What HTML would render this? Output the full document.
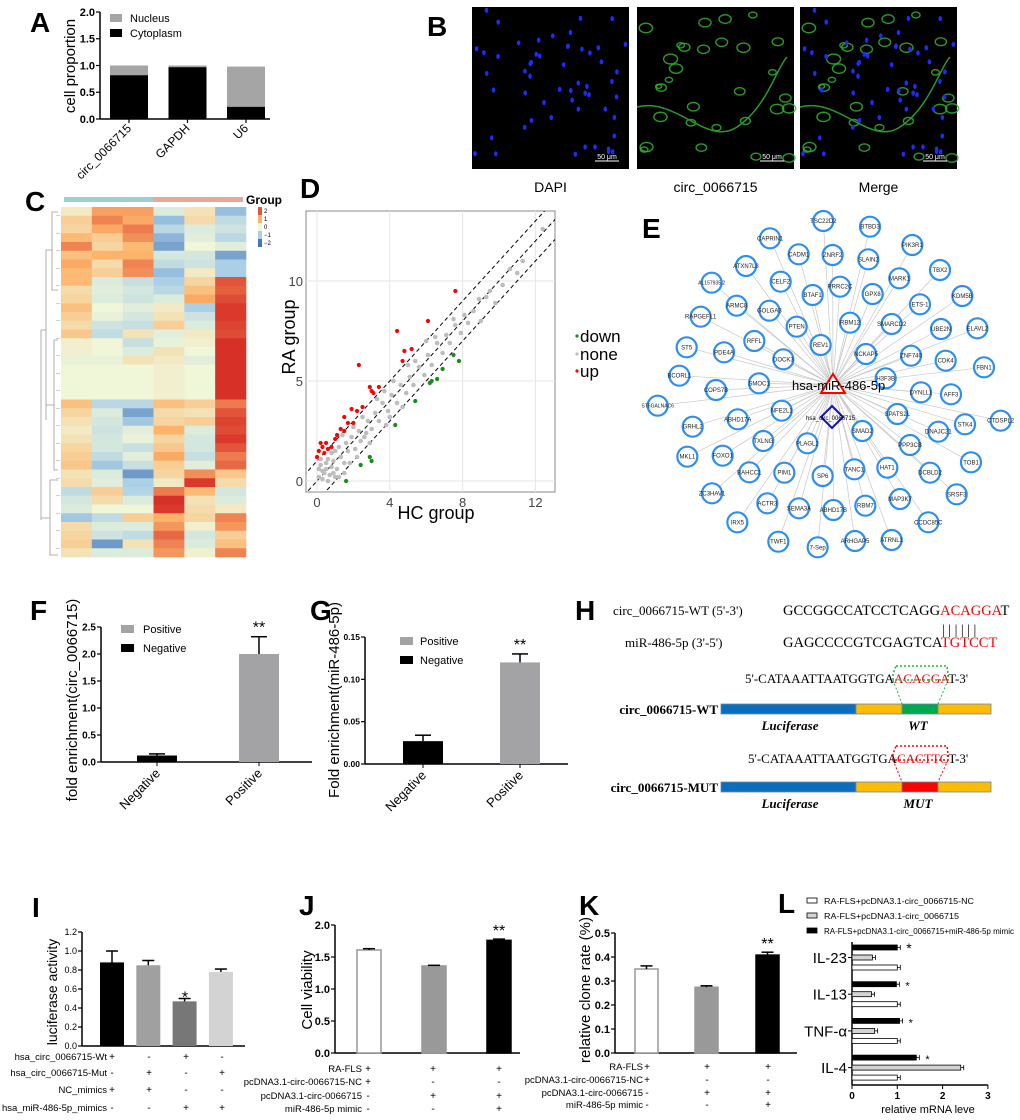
<!DOCTYPE html>
<html><head><meta charset="utf-8"><title>Figure</title>
<style>
html,body{margin:0;padding:0;background:#fff;}
svg{display:block;font-family:"Liberation Sans",Arial,sans-serif;}
</style></head>
<body>
<svg id="fig" width="1020" height="1120" viewBox="0 0 1020 1120" xmlns="http://www.w3.org/2000/svg">
<rect x="0" y="0" width="1020" height="1120" fill="#fff"/>
</svg>
<script>
// ---------- data ----------
const aCats=['circ_0066715','GAPDH','U6'];
const aCyto=[0.82,0.97,0.23];
const aNuc=[0.18,0.03,0.75];
const aTicks=[0,0.5,1,1.5,2];

const hmRows=[
[0.2,1.2,1.2,-0.3,0.3,-1.2],[0.6,1.5,1.1,-1.2,0.4,-0.7],[0.5,1.1,1.6,-0.8,-0.3,-0.5],[0.9,0.6,1.4,-1.3,-0.2,-0.8],
[1.5,0.5,0.9,-1.5,0,-0.2],[0.8,1.0,1.0,-0.4,-0.4,-1.5],[1.1,0.4,1.5,-0.7,-0.5,-1.0],[0.9,0.6,1.4,-1.2,0.2,-1.0],
[0.9,-0.3,-0.6,-1.0,0.5,2.0],[0.4,-0.2,-0.4,-0.8,0.8,1.9],[0.5,-0.3,-0.5,-0.3,1.1,2.1],[0.8,0,-0.2,0.2,-1.0,2.3],
[0.6,-0.1,-0.4,0.3,-0.5,2.3],[0.4,-0.5,-0.6,0.6,-0.3,2.2],[0.7,-0.7,0.3,-0.2,0.2,2.1],[0.1,0,-0.6,-0.1,0.1,2.4],
[0.1,0,-0.3,0.3,0,2.4],[-0.1,-0.1,0.3,0.2,-0.2,2.4],[0,0,0,0.1,0,2.4],[0,0,0,0.1,0,2.4],
[0,0,0,0.1,0,2.4],[0,0,0,0.1,0,2.4],[0.8,-0.8,-0.8,0.8,0.6,1.6],[0.5,-0.3,-1.5,0.4,0.3,2.0],
[0.3,-0.4,-1.1,0.5,0.6,2.2],[0.2,-0.5,-0.2,1.0,-0.3,2.1],[0.3,-0.4,-0.1,0.5,-0.4,2.3],[0.5,-0.4,-0.6,0.7,-0.4,2.0],
[0.6,-0.7,-0.2,1.1,-0.6,1.6],[0.7,-1.1,-0.6,0.6,-0.2,1.8],[0.3,-0.3,-1.6,0.5,1.4,0.7],[0.4,-0.2,-1.0,0.2,2.3,0.4],
[-0.7,0.6,-0.9,1.6,0.9,-0.4],[-0.4,0.4,-0.3,2.4,0.3,-0.3],[-0.3,0,0,2.3,0.4,0.2],[-1.1,-0.7,0.6,1.0,0.5,1.5],
[0.4,-0.3,-0.3,1.3,0.1,1.3],[0.5,-0.5,-0.7,1.8,-0.4,0.6],[0.6,-1.6,0.3,1.5,-0.3,0.8],[0.3,-0.3,-0.3,1.3,0.1,1.5]];

const dXTicks=[0,4,8,12];
const dYTicks=[0,5,10];
const upHC=[7.6,6.1,4.4,2.3,4.8,5.2,4.7,3.4,2.9,3.0,3.1,2.5,1.9,2.2,1.5,1.7,2.0,1.3,1.5,1.1,1.0,0.5,0.2,0.3,0.1,0.6,0.0,0.4,0.8];
const upRA=[9.5,8.0,7.5,5.8,6.5,6.6,6.0,4.7,4.7,4.5,4.4,3.7,3.6,3.5,3.2,2.9,2.9,2.6,2.5,2.3,2.1,1.9,1.9,1.7,1.5,1.6,1.2,1.4,1.7];
const downHC=[7.5,7.8,6.9,6.3,6.2,6.6,5.4,4.3,2.9,3.0,2.4,1.6];
const downRA=[6.3,6.0,5.6,5.0,4.9,5.1,4.0,2.8,1.2,1.0,0.8,0.0];
const noneHC=[0.1,0.3,0.5,0.2,0.7,0.9,1.1,0.4,0.6,1.3,1.5,1.2,1.7,1.9,2.1,2.3,2.0,2.6,2.8,2.5,3.0,3.2,3.4,3.6,3.3,3.9,4.1,4.4,4.6,4.2,4.9,5.1,5.3,5.6,5.4,5.9,6.1,6.3,6.6,6.5,6.9,7.1,7.3,7.6,7.5,7.9,8.1,8.3,8.6,9.0,9.3,9.5,9.8,10.2,10.6,11.0,11.3,12.4,2.9,1.4,3.8,4.0,3.7,0.8,1.8,0.2,6.0,5.0,4.7,8.9,1.0,2.2,0.3,0.6,0.9,1.2,1.5,0.1,0.8,1.6,2.4,2.7,0.5,1.0];
const noneRA=[0.2,0.1,0.6,0.8,0.3,1.0,0.6,0.4,1.1,1.2,0.9,1.7,1.5,2.2,1.6,2.5,2.7,2.2,3.0,3.2,2.6,3.4,3.0,3.9,4.1,3.5,4.3,3.9,4.8,5.0,4.4,5.2,4.8,5.7,6.0,5.3,6.3,5.8,6.9,7.2,6.4,7.3,6.9,7.8,8.1,7.4,8.3,7.9,8.5,8.0,9.2,9.5,8.9,9.8,10.6,10.4,11.0,12.6,1.9,2.3,2.8,3.2,4.5,1.4,0.9,1.1,7.0,5.8,3.7,9.1,0.2,1.2,0.5,0.0,0.4,0.2,0.4,0.6,0.7,1.9,2.0,2.4,0.9,1.5];

const fCats=['Negative','Positive'];
const fVals=[0.12,2.0];
const fErr=[0.15,2.32];
const fTicks=[0,0.5,1.0,1.5,2.0,2.5];
const gVals=[0.027,0.12];
const gErr=[0.034,0.13];
const gTicks=[0,0.05,0.10,0.15];

const iVals=[0.88,0.85,0.47,0.78];
const iErr=[1.0,0.9,0.5,0.81];
const iTicks=[0,0.2,0.4,0.6,0.8,1.0,1.2];
const iRowLabels=['hsa_circ_0066715-Wt','hsa_circ_0066715-Mut','NC_mimics','hsa_miR-486-5p_mimics'];
const iSigns=[['+','-','+','-'],['-','+','-','+'],['+','+','-','-'],['-','-','+','+']];

const jVals=[1.61,1.36,1.76];
const jErr=[1.63,1.37,1.78];
const jTicks=[0,0.5,1.0,1.5,2.0];
const kVals=[0.35,0.274,0.408];
const kErr=[0.363,0.28,0.42];
const kTicks=[0,0.1,0.2,0.3,0.4,0.5];
const jkRowLabels=['RA-FLS','pcDNA3.1-circ-0066715-NC','pcDNA3.1-circ-0066715','miR-486-5p mimic'];
const jkSigns=[['+','+','+'],['+','-','-'],['-','+','+'],['-','-','+']];

const lCats=['IL-23','IL-13','TNF-α','IL-4'];
const lMimic=[1.0,0.98,1.05,1.42];
const lCirc=[0.45,0.43,0.5,2.4];
const lNC=[1.0,1.0,1.0,1.0];
const lTicks=[0,1,2,3];

// ---------- helpers ----------
const NS='http://www.w3.org/2000/svg';
const svg=document.getElementById('fig');
function mk(tag,attrs,parent,text){const e=document.createElementNS(NS,tag);for(const k in attrs)e.setAttribute(k,attrs[k]);if(text!==undefined)e.textContent=text;(parent||svg).appendChild(e);return e;}
function nm(e,n,inter){
  
  
  return e;
}
function grp(n){const g=mk('g',{});nm(g,n);return g;}
function letter(g,t,x,y,n){const e=mk('text',{x:x,y:y,'font-size':28,'font-weight':'bold',fill:'#000'},g,t);nm(e,n);}
function vAxis(g,x,ys,ticks,fmt,fs,bold,n){
  const l=mk('line',{x1:x,x2:x,y1:ys(ticks[0]),y2:ys(ticks[ticks.length-1]),stroke:'#000','stroke-width':1.5},g);nm(l,n+'-y-axis');
  ticks.forEach(t=>{const tl=mk('line',{x1:x-4,x2:x,y1:ys(t),y2:ys(t),stroke:'#000','stroke-width':1.2},g);nm(tl,n+'-y-tick');
    const tx=mk('text',{x:x-5,y:ys(t)+fs*0.35,'text-anchor':'end','font-size':fs,'font-weight':bold?'bold':'normal'},g,fmt(t));nm(tx,n+'-y-tick-label');});
}
function hLine(g,x1,x2,y,n){const l=mk('line',{x1:x1,x2:x2,y1:y,y2:y,stroke:'#000','stroke-width':1.5},g);nm(l,n);}
function errBar(g,cx,yTop,yErr,w,n){const a=mk('line',{x1:cx,x2:cx,y1:yTop,y2:yErr,stroke:'#000','stroke-width':1.5},g);nm(a,n);
  const c=mk('line',{x1:cx-w,x2:cx+w,y1:yErr,y2:yErr,stroke:'#000','stroke-width':1.5},g);nm(c,n+'-cap');}
function txt(g,s,x,y,fs,n,extra){const a={x:x,y:y,'font-size':fs};for(const k in (extra||{}))a[k]=extra[k];const e=mk('text',a,g,s);nm(e,n);return e;}

// ---------- Panel A ----------
(function(){
  const g=grp('panel-a');
  letter(g,'A',30,32,'panel-a-label');
  const yA=v=>119-v*53.5;
  const xA=i=>110+i*58.5;
  vAxis(g,100,yA,aTicks,t=>t.toFixed(1),11,true,'panel-a');
  hLine(g,100,270,yA(0),'panel-a-x-axis');
  aCats.forEach((c,i)=>{
    const b1=mk('rect',{x:xA(i),y:yA(aCyto[i]),width:38,height:yA(0)-yA(aCyto[i]),fill:'#000'},g);nm(b1,'bar-cytoplasm-'+c);
    const b2=mk('rect',{x:xA(i),y:yA(aCyto[i]+aNuc[i]),width:38,height:yA(aCyto[i])-yA(aCyto[i]+aNuc[i]),fill:'#a5a5a5'},g);nm(b2,'bar-nucleus-'+c);
    const tk=mk('line',{x1:xA(i)+19,x2:xA(i)+19,y1:yA(0),y2:yA(0)+4,stroke:'#000','stroke-width':1.2},g);nm(tk,'panel-a-x-tick');
    txt(g,c,xA(i)+22,yA(0)+10,12,'panel-a-x-label',{'text-anchor':'end',transform:'rotate(-45 '+(xA(i)+22)+' '+(yA(0)+10)+')'});
  });
  txt(g,'cell proportion',75,66,15,'panel-a-y-title',{'text-anchor':'middle',transform:'rotate(-90 75 66)'});
  const l1=mk('rect',{x:110,y:14,width:12,height:8,fill:'#a5a5a5'},g);nm(l1,'legend-nucleus-swatch');
  txt(g,'Nucleus',130,22,11,'legend-nucleus');
  const l2=mk('rect',{x:110,y:29,width:12,height:8,fill:'#000'},g);nm(l2,'legend-cytoplasm-swatch');
  txt(g,'Cytoplasm',130,37,11,'legend-cytoplasm');
})();

// ---------- Panel B ----------
(function(){
  const g=grp('panel-b');
  letter(g,'B',427,36,'panel-b-label');
  const xs=[472,637,800], W=157, H=162, Y=7;
  const labels=['DAPI','circ_0066715','Merge'];
  let seed=7; const rnd=()=>{seed=(seed*16807)%2147483647;return seed/2147483647;};
  const blue=[],green=[];
  for(let i=0;i<55;i++)blue.push([rnd(),rnd()]);
  for(let i=0;i<30;i++)green.push([rnd(),rnd(),rnd()]);
  xs.forEach((x0,k)=>{
    const im=mk('rect',{x:x0,y:Y,width:W,height:H,fill:'#000'},g);nm(im,'micrograph-'+labels[k]);
    if(k>0){green.forEach(p=>{const e=mk('ellipse',{cx:x0+4+p[0]*(W-8),cy:Y+4+p[1]*(H-8),rx:3+p[2]*4,ry:2+p[2]*3,fill:'none',stroke:'#2fb52f','stroke-width':1.4,opacity:0.85},g);nm(e,'green-signal');});
      const c=mk('path',{d:`M${x0} ${Y+100} C${x0+40} ${Y+90},${x0+70} ${Y+140},${x0+100} ${Y+120} S${x0+140} ${Y+60},${x0+150} ${Y+50}`,fill:'none',stroke:'#2a9a2a','stroke-width':1.5},g);nm(c,'green-fiber');}
    if(k!==1){blue.forEach(p=>{const e=mk('ellipse',{cx:x0+3+p[0]*(W-6),cy:Y+3+p[1]*(H-6),rx:1.8,ry:2.6,fill:'#1e2bff'},g);nm(e,'nucleus-dot');});}
    const sb=mk('line',{x1:x0+W-34,x2:x0+W-10,y1:Y+H-8,y2:Y+H-8,stroke:'#fff','stroke-width':1},g);nm(sb,'scale-bar');
    txt(g,'50 μm',x0+W-22,Y+H-10,7,'scale-bar-label',{'text-anchor':'middle',fill:'#fff'});
    txt(g,labels[k],x0+W/2,192,14,'caption-'+labels[k],{'text-anchor':'middle'});
  });
})();

// ---------- Panel C ----------
(function(){
  const g=grp('panel-c');
  letter(g,'C',25,211,'panel-c-label');
  const x0=61,x1=246,y0=207,y1=557;
  const cw=(x1-x0)/6, rh=(y1-y0)/hmRows.length;
  const stops=[[-2,[69,117,180]],[-1,[171,208,230]],[0,[240,246,216]],[1,[253,179,106]],[2.4,[215,48,39]]];
  function col(v){v=Math.max(-2,Math.min(2.4,v));for(let i=0;i<stops.length-1;i++){const a=stops[i],b=stops[i+1];if(v<=b[0]){const t=(v-a[0])/(b[0]-a[0]);return 'rgb('+a[1].map((c,j)=>Math.round(c+(b[1][j]-c)*t)).join(',')+')';}}return 'rgb(215,48,39)';}
  hmRows.forEach((r,ri)=>r.forEach((v,ci)=>{const c=mk('rect',{x:x0+ci*cw,y:y0+ri*rh,width:cw+0.3,height:rh+0.3,fill:col(v)},g);nm(c,'heatmap-cell');}));
  const gb1=mk('rect',{x:64,y:197,width:89,height:5,fill:'#9ad0d0'},g);nm(gb1,'group-bar-hc');
  const gb2=mk('rect',{x:153,y:197,width:90,height:5,fill:'#e8a898'},g);nm(gb2,'group-bar-ra');
  txt(g,'Group',246,204,12,'group-label',{'font-weight':'bold'});
  const keyVals=[2,1,0,-1,-2];
  keyVals.forEach((v,i)=>{const r=mk('rect',{x:258,y:207+i*8,width:4,height:8,fill:col(v)},g);nm(r,'color-key-cell');
    txt(g,String(v).replace('-','−'),264,213+i*8,6,'color-key-label');});
  const d=mk('path',{d:'M58 212 H52 V290 H58 M52 250 H46 V420 M58 340 H54 V470 H58 M54 405 H46 M46 330 H41 V520 M58 480 H50 V555 H58 M50 518 H41',fill:'none',stroke:'#999','stroke-width':0.8},g);nm(d,'row-dendrogram');
  for(let i=0;i<hmRows.length;i+=2){const l=mk('line',{x1:56,x2:60,y1:y0+i*rh+rh,y2:y0+i*rh+rh,stroke:'#aaa','stroke-width':0.6},g);nm(l,'dendrogram-leaf');}
})();

// ---------- Panel D ----------
(function(){
  const g=grp('panel-d');
  letter(g,'D',300,198,'panel-d-label');
  const X=v=>317+v*18.2, Y=v=>481-v*20;
  const px0=306,px1=555,py0=211,py1=492;
  const fr=mk('rect',{x:px0,y:py0,width:px1-px0,height:py1-py0,fill:'#fff',stroke:'#888','stroke-width':1},g);nm(fr,'plot-frame');
  dXTicks.forEach(t=>{const l=mk('line',{x1:X(t),x2:X(t),y1:py0,y2:py1,stroke:'#e6e6e6','stroke-width':1},g);nm(l,'grid-x');
    txt(g,String(t),X(t),py1+15,13,'x-tick-label',{'text-anchor':'middle',fill:'#444'});});
  dYTicks.forEach(t=>{const l=mk('line',{x1:px0,x2:px1,y1:Y(t),y2:Y(t),stroke:'#e6e6e6','stroke-width':1},g);nm(l,'grid-y');
    txt(g,String(t),px0-3,Y(t)+5,13,'y-tick-label',{'text-anchor':'end',fill:'#444'});});
  const cp=mk('clipPath',{id:'dclip'},g);mk('rect',{x:px0,y:py0,width:px1-px0,height:py1-py0},cp);
  const lg=mk('g',{'clip-path':'url(#dclip)'},g);nm(lg,'scatter-area');
  [-1,0,1].forEach(o=>{const l=mk('line',{x1:X(-1),y1:Y(-1+o),x2:X(14),y2:Y(14+o),stroke:'#000','stroke-width':1,'stroke-dasharray':'4,3'},lg);nm(l,'threshold-line');});
  noneHC.forEach((v,i)=>{const c=mk('circle',{cx:X(v),cy:Y(noneRA[i]),r:2.3,fill:'#bdbdbd'},lg);nm(c,'point-none');});
  upHC.forEach((v,i)=>{const c=mk('circle',{cx:X(v),cy:Y(upRA[i]),r:2.1,fill:'#f00'},lg);nm(c,'point-up');});
  downHC.forEach((v,i)=>{const c=mk('circle',{cx:X(v),cy:Y(downRA[i]),r:2.1,fill:'#1a8a1a'},lg);nm(c,'point-down');});
  txt(g,'HC group',436,519,18,'x-axis-title',{'text-anchor':'middle'});
  txt(g,'RA group',295,337,18,'y-axis-title',{'text-anchor':'middle',transform:'rotate(-90 295 337)'});
  const lgd=[['down','#1a8a1a',342],['none','#bdbdbd',360],['up','#f00',377]];
  lgd.forEach(e=>{const c=mk('circle',{cx:577,cy:e[2]-6,r:1.6,fill:e[1]},g);nm(c,'legend-dot-'+e[0]);txt(g,e[0],580,e[2],17,'legend-'+e[0]);});
})();

// ---------- Panel E ----------
(function(){
  const g=grp('panel-e');
  letter(g,'E',642,238,'panel-e-label');
  const nodes=[['TSC22D2',790,78],['BTBD3',930,95],['CAPRIN1',630,130],['CADM1',716,178],['ZNRF2',818,180],['SLAIN2',925,193],['PIK3R1',1057,150],['ATXN7L3',558,213],['TBX2',1140,225],['AL157935.2',455,263],['CELF2',662,260],['PRRC2C',840,275],['GPX8',938,297],['MARK1',1018,250],['BTAF1',758,300],['KDM5B',1207,303],['ARMC8',530,332],['GOLGA3',628,347],['ETS-1',1080,328],['RAPGEFL1',422,365],['PTEN',710,395],['RBM12',870,383],['SMARCD2',995,387],['UBE2N',1143,402],['ELAVL2',1252,400],['ST5',380,457],['RFFL',583,438],['REV1',782,450],['PDE4A',492,472],['DOCK3',670,493],['NCKAP5',918,477],['ZNF740',1053,482],['CDK4',1157,497],['FBN1',1272,517],['BCORL1',358,542],['SMOC1',597,565],['H3F3B',977,550],['COPS7B',468,585],['DYNLL1',1083,592],['AFF3',1173,598],['ST6GALNAC6',293,632],['NFE2L1',665,647],['SPATS2L',1012,657],['CTDSPL2',1322,677],['GRHL2',398,695],['ABHD17A',533,673],['SMAD2',907,708],['STK4',1215,688],['DNAJC21',1135,710],['TXLNG',610,738],['PLAGL2',742,745],['PPP3CB',1050,750],['MKL1',382,785],['FOXO1',488,782],['TOB1',1233,802],['BAHCC1',568,832],['PIM1',673,833],['SP6',788,843],['TANC1',883,823],['HAT1',982,818],['DCBLD2',1110,833],['ZC3HAV1',456,895],['ACTR3',622,925],['SEMA3A',717,940],['ABHD17B',820,945],['RBM7',916,932],['MAP3K7',1020,912],['SRSF3',1190,898],['IRX5',532,982],['CCDC85C',1105,982],['TWF1',655,1040],['7-Sep',773,1057],['ARHGAP5',885,1038],['ATRNL1',995,1035]];
  const cx=833,cy=385;
  const eg=mk('g',{},g);nm(eg,'edges');
  nodes.forEach(n=>{const x=560+n[1]/3,y=195+n[2]/3;const l=mk('line',{x1:cx,y1:cy,x2:x,y2:y,stroke:'#c8c8c8','stroke-width':0.7},eg);nm(l,'edge-'+n[0]);});
  nodes.forEach(n=>{const x=560+n[1]/3,y=195+n[2]/3;
    const c=mk('circle',{cx:x,cy:y,r:10,fill:'#fff',stroke:'#2b8ef0','stroke-width':2.2},g);nm(c,'node-'+n[0]);
    const fs=n[0].length>8?5:6;
    txt(g,n[0],x,y+2,fs,'node-label-'+n[0],{'text-anchor':'middle',fill:'#222'});});
  const tri=mk('polygon',{points:`${cx},${cy-11} ${cx-12},${cy+8} ${cx+12},${cy+8}`,fill:'#fff',stroke:'#f00','stroke-width':2},g);nm(tri,'mirna-node');
  txt(g,'hsa-miR-486-5p',792,390,13,'mirna-label');
  const dia=mk('polygon',{points:'832,406 843,417 832,428 821,417',fill:'none',stroke:'#1010c0','stroke-width':2},g);nm(dia,'circrna-node');
  txt(g,'hsa_circ_0066715',806,420,6,'circrna-label');
})();

// ---------- Panels F & G ----------
function enrich(name,L,lx,ax,y0,ytop,tickMax,ticks,vals,errs,bx,xEnd,fmt,ytitle,ytx,legX,legY,legTx,tfs){
  const g=grp(name);
  letter(g,L,lx,620,name+'-label');
  const ys=v=>y0-(v/tickMax)*(y0-ytop);
  vAxis(g,ax,ys,ticks,fmt,tfs,true,name);
  hLine(g,ax,xEnd,y0,name+'-x-axis');
  fCats.forEach((c,i)=>{const fill=i===0?'#000':'#a3a3a5';
    const b=mk('rect',{x:bx[i],y:ys(vals[i]),width:40,height:y0-ys(vals[i]),fill:fill},g);nm(b,'bar-'+c.toLowerCase());
    errBar(g,bx[i]+20,ys(vals[i]),ys(errs[i]),8,'error-bar-'+c.toLowerCase());
    const tk=mk('line',{x1:bx[i]+20,x2:bx[i]+20,y1:y0,y2:y0+4,stroke:'#000'},g);nm(tk,name+'-x-tick');
    txt(g,c,bx[i]+24,y0+12,13,name+'-x-label',{'text-anchor':'end',transform:`rotate(-45 ${bx[i]+24} ${y0+12})`});
  });
  txt(g,'**',bx[1]+20,ys(errs[1])-4,16,'significance-star',{'text-anchor':'middle'});
  txt(g,ytitle,ytx,700,15,name+'-y-title',{'text-anchor':'middle',transform:`rotate(-90 ${ytx} 700)`});
  const s1=mk('rect',{x:legX,y:legY,width:13,height:8,fill:'#a3a3a5'},g);nm(s1,'legend-positive-swatch');
  txt(g,'Positive',legTx,legY+8,11,'legend-positive');
  const s2=mk('rect',{x:legX,y:legY+19,width:13,height:8,fill:'#000'},g);nm(s2,'legend-negative-swatch');
  txt(g,'Negative',legTx,legY+27,11,'legend-negative');
}
enrich('panel-f','F',30,101,762,627,2.5,fTicks,fVals,fErr,[137,239],312,t=>t.toFixed(1),'fold enrichment(circ_0066715)',77,121,625,143,10);
enrich('panel-g','G',310,365,764,637,0.15,gTicks,gVals,gErr,[403,500],568,t=>t.toFixed(2),'Fold enrichment(miR-486-5p)',339,400,637,420,8.5);

// ---------- Panel H ----------
(function(){
  const g=grp('panel-h');
  letter(g,'H',575,620,'panel-h-label');
  function seq(parts,x,y,fs,n){const t=mk('text',{x:x,y:y,'font-size':fs,'font-family':'"Liberation Serif",serif'},g);nm(t,n);
    parts.forEach(p=>{const s=mk('tspan',{fill:p[1]},t,p[0]);nm(s,n+'-part');});}
  seq([['circ_0066715-WT (5\'-3\')','#000']],613,615,13,'wt-sequence-label');
  seq([['GCCGGCCATCCTCAGG','#000'],['ACAGGA','#f00'],['T','#000']],783,615,14.5,'wt-sequence');
  txt(g,'| | | | | |',942,634,14,'base-pairs',{'font-family':'"Liberation Serif",serif'});
  seq([['miR-486-5p (3\'-5\')','#000']],625,647,13,'mir-sequence-label');
  seq([['GAGCCCCGTCGAGTCA','#000'],['TGTCCT','#f00']],783,647,14.5,'mir-sequence');
  seq([['5\'-CATAAATTAATGGTGA','#000'],['ACAGGA','#f00'],['T-3\'','#000']],745,683,13,'wt-construct-sequence');
  seq([['5\'-CATAAATTAATGGTGA','#000'],['CACTTC','#f00'],['T-3\'','#000']],748,763,13,'mut-construct-sequence');
  function construct(y,col,lab,site,sy,boxCol){
    const parts=[[721,856,'#0a6ebd'],[856,902,'#fcbc04'],[902,938,col],[938,991,'#fcbc04']];
    parts.forEach((p,i)=>{const r=mk('rect',{x:p[0],y:y,width:p[1]-p[0],height:10,fill:p[2],stroke:'#6a8aa6','stroke-width':0.8},g);nm(r,lab+'-segment-'+i);});
    txt(g,lab,718,y+10,13,lab+'-label',{'text-anchor':'end','font-weight':'bold','font-family':'"Liberation Serif",serif'});
    txt(g,'Luciferase',790,y+26,13,lab+'-luciferase',{'text-anchor':'middle','font-weight':'bold','font-style':'italic','font-family':'"Liberation Serif",serif'});
    txt(g,site,918,y+26,13,lab+'-site',{'text-anchor':'middle','font-weight':'bold','font-style':'italic','font-family':'"Liberation Serif",serif'});
    const b=mk('path',{d:`M896 ${sy} H947 L948 ${sy+8} L948 ${sy+14} H893 V${sy+8}Z`,fill:'none',stroke:boxCol,'stroke-width':1.5,'stroke-dasharray':'2,2'},g);nm(b,lab+'-site-box');
    const d=mk('path',{d:`M893 ${sy+14} L902 ${y} M948 ${sy+14} L938 ${y}`,fill:'none',stroke:boxCol,'stroke-width':1,'stroke-dasharray':'2,2'},g);nm(d,lab+'-site-lines');
  }
  construct(704,'#00a850','circ_0066715-WT','WT',666,'#19b84a');
  construct(782,'#f00','circ_0066715-MUT','MUT',746,'#f00');
})();

// ---------- Panel I ----------
(function(){
  const g=grp('panel-i');
  letter(g,'I',32,917,'panel-i-label');
  const y0=1046, ys=v=>y0-v*95;
  vAxis(g,82,ys,iTicks,t=>t.toFixed(1),9,false,'panel-i');
  hLine(g,82,245,y0,'panel-i-x-axis');
  const fills=['#000','#a0a0a0','#777','#d3d3d3'];
  iVals.forEach((v,i)=>{const x=100+i*36.3;
    const b=mk('rect',{x:x,y:ys(v),width:24,height:y0-ys(v),fill:fills[i]},g);nm(b,'bar-group-'+(i+1));
    errBar(g,x+12,ys(v),ys(iErr[i]),6,'error-bar-'+(i+1));});
  txt(g,'*',185,ys(iErr[2])+4,16,'significance-star',{'text-anchor':'middle'});
  txt(g,'luciferase activity',57,992,14,'panel-i-y-title',{'text-anchor':'middle',transform:'rotate(-90 57 992)'});
  const ry=[1060,1076,1093,1111], sx=[112,149,186,222];
  iRowLabels.forEach((l,r)=>{txt(g,l,107,ry[r],9.5,'row-label-'+l,{'text-anchor':'end'});
    iSigns[r].forEach((s,c)=>txt(g,s,sx[c],ry[r],10,'sign',{'text-anchor':'middle'}));});
})();

// ---------- Panels J & K ----------
function viab(name,L,lx,ax,y0,ytop,tmax,ticks,vals,errs,bx,bw,xEnd,fmt,title,tx,labEnd,sx,ry){
  const g=grp(name);
  letter(g,L,lx,915,name+'-label');
  const ys=v=>y0-v/tmax*(y0-ytop);
  vAxis(g,ax,ys,ticks,fmt,11,true,name);
  hLine(g,ax,xEnd,y0,name+'-x-axis');
  const fills=['#fff','#999','#000'];
  vals.forEach((v,i)=>{const b=mk('rect',{x:bx[i],y:ys(v),width:bw,height:y0-ys(v),fill:fills[i],stroke:i===2?'#000':'#999','stroke-width':1.5},g);nm(b,'bar-group-'+(i+1));
    errBar(g,bx[i]+bw/2,ys(v),ys(errs[i]),6,'error-bar-'+(i+1));});
  txt(g,'**',bx[2]+bw/2,ys(errs[2])-3,16,'significance-star',{'text-anchor':'middle'});
  txt(g,title,tx,990,15,name+'-y-title',{'text-anchor':'middle',transform:`rotate(-90 ${tx} 990)`});
  jkRowLabels.forEach((l,r)=>{txt(g,l,labEnd,ry[r],9.5,'row-label-'+l,{'text-anchor':'end'});
    jkSigns[r].forEach((s,c)=>txt(g,s,sx[c],ry[r],10,'sign',{'text-anchor':'middle'}));});
}
viab('panel-j','J',299,335,1053,925,2.0,jTicks,jVals,jErr,[357,422,487],24,520,t=>t.toFixed(1),'Cell viability',312,362,[368,433,499],[1072,1085,1099,1112]);
viab('panel-k','K',579,615,1053,933,0.5,kTicks,kVals,kErr,[635,695,756],23,797,t=>t.toFixed(1),'relative clone rate (%)',590,643,[647,707,768],[1070,1083,1096,1108]);

// ---------- Panel L ----------
(function(){
  const g=grp('panel-l');
  letter(g,'L',778,913,'panel-l-label');
  const xs=v=>852+v*45.3, y0=1085;
  const a=mk('line',{x1:852,x2:852,y1:942,y2:y0,stroke:'#000','stroke-width':1.5},g);nm(a,'panel-l-y-axis');
  hLine(g,852,xs(3),y0,'panel-l-x-axis');
  lTicks.forEach(t=>{const l=mk('line',{x1:xs(t),x2:xs(t),y1:y0,y2:y0+4,stroke:'#000'},g);nm(l,'panel-l-x-tick');
    txt(g,String(t),xs(t),y0+14,10,'panel-l-x-tick-label',{'text-anchor':'middle','font-weight':'bold'});});
  txt(g,'relative mRNA  leve',928,1113,11,'panel-l-x-title',{'text-anchor':'middle'});
  const series=[[lMimic,'#000',0],[lCirc,'#d4d4d4',10],[lNC,'#fff',20]];
  lCats.forEach((c,i)=>{const gy=945+i*36.7;
    series.forEach(s=>{const v=s[0][i];const r=mk('rect',{x:852,y:gy+s[2],width:xs(v)-852,height:5,fill:s[1],stroke:'#000','stroke-width':0.8},g);nm(r,'bar-'+c);
      const e=mk('path',{d:`M${xs(v)} ${gy+s[2]+2.5} H${xs(v)+3} M${xs(v)+3} ${gy+s[2]} V${gy+s[2]+5}`,stroke:'#000','stroke-width':0.8,fill:'none'},g);nm(e,'error-bar-'+c);});
    txt(g,'*',xs(lMimic[i])+9,gy+8,i===0?14:11,'significance-star');
    const tk=mk('line',{x1:848,x2:852,y1:gy+12.5,y2:gy+12.5,stroke:'#000'},g);nm(tk,'panel-l-y-tick');
    txt(g,c,847,gy+18,15,'category-label-'+c,{'text-anchor':'end'});
  });
  const leg=[['RA-FLS+pcDNA3.1-circ_0066715-NC','#fff',150],['RA-FLS+pcDNA3.1-circ_0066715','#d4d4d4',135],['RA-FLS+pcDNA3.1-circ_0066715+miR-486-5p mimic','#000',190]];
  leg.forEach((l,i)=>{const r=mk('rect',{x:807,y:898+i*15,width:10,height:5,fill:l[1],stroke:'#000','stroke-width':0.8},g);nm(r,'legend-swatch-'+i);
    txt(g,l[0],824,904+i*15,8,'legend-entry-'+i,{textLength:l[2],lengthAdjust:'spacingAndGlyphs'});});
})();
</script>
</body></html>
